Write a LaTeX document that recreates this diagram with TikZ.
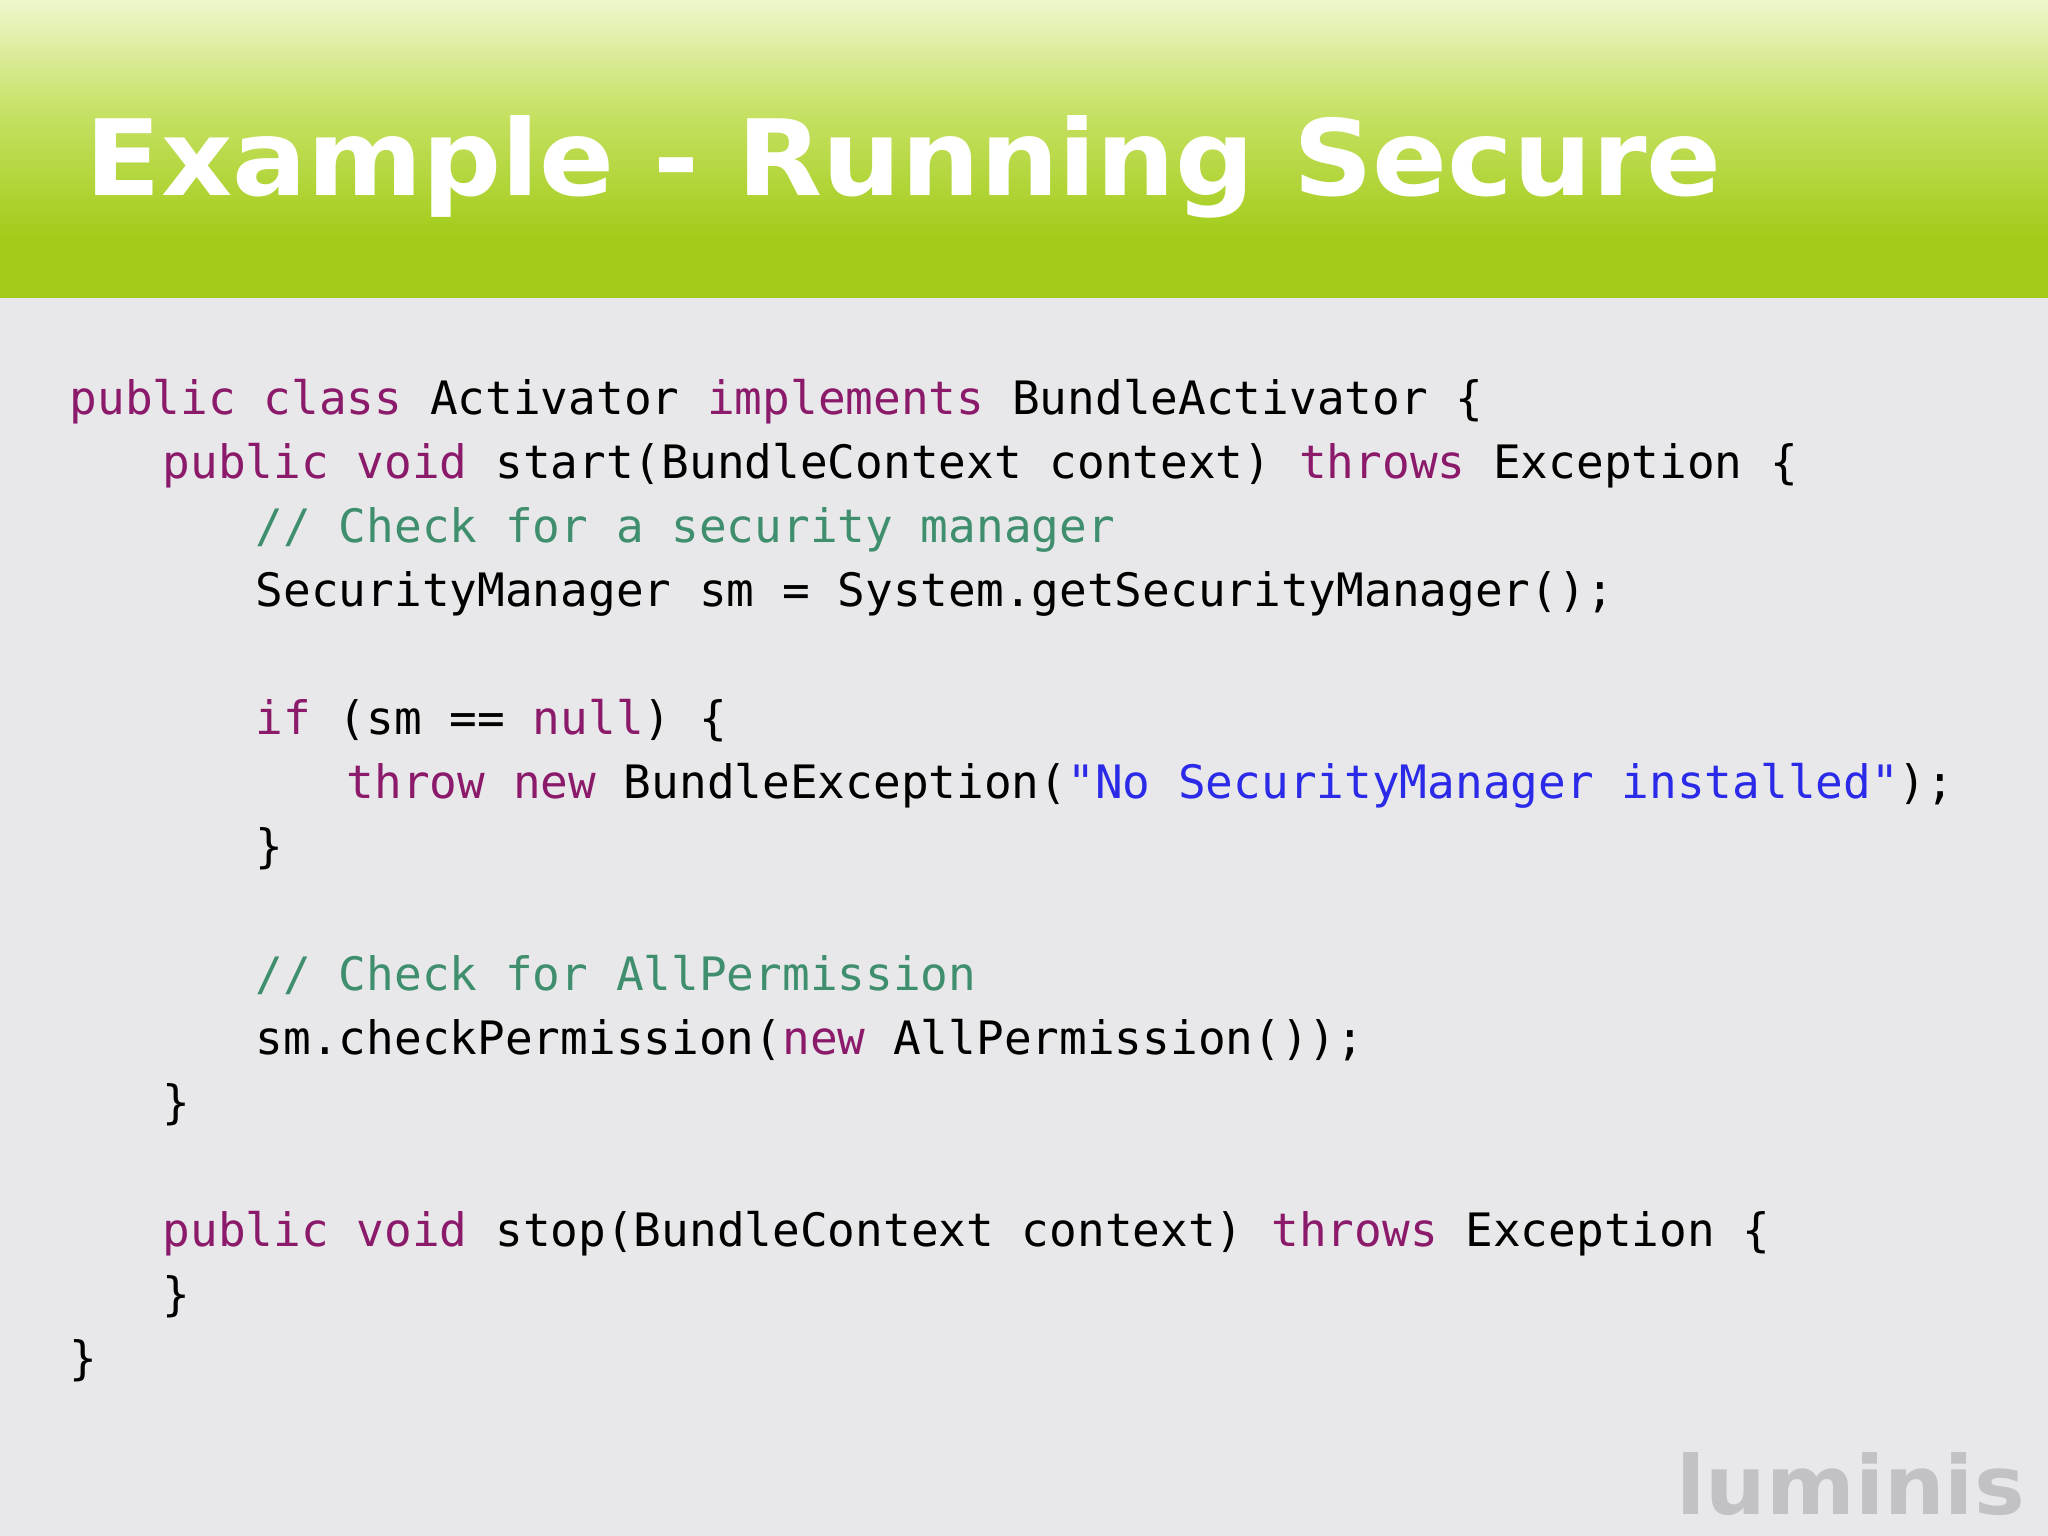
\documentclass[tikz,border=0pt]{standalone}
\usepackage{fontspec}
\usepackage{graphicx}
\setmonofont{DejaVu Sans Mono}
\newfontfamily\titlefont{DejaVu Sans}
\definecolor{bg}{HTML}{E8E8EA}
\definecolor{kw}{HTML}{8B1A6B}
\definecolor{cm}{HTML}{3F8F6F}
\definecolor{st}{HTML}{2A2AE8}
\definecolor{gtop}{HTML}{EEF6CC}
\definecolor{gmid}{HTML}{C4E060}
\definecolor{gbot}{HTML}{A3CC1A}
\definecolor{logo}{HTML}{C2C2C4}
\newcommand{\K}[1]{\textcolor{kw}{#1}}
\newcommand{\C}[1]{\textcolor{cm}{#1}}
\newcommand{\Sg}[1]{\textcolor{st}{#1}}
\begin{document}
\begin{tikzpicture}[x=1cm,y=1cm,
  code/.style={anchor=base west,inner sep=0pt,font=\ttfamily\fontsize{13.1}{15}\selectfont,text=black}]
\useasboundingbox (0,0) rectangle (20.48,15.36);
\fill[bg] (0,0) rectangle (20.48,15.36);
\fill[gbot] (0,12.38) rectangle (20.48,13.05);
\shade[top color=gtop,bottom color=gbot,middle color=gmid] (0,13.0) rectangle (20.48,15.36);
\node[anchor=base west,inner sep=0pt,text=white] (title) at (0.85,13.40)
  {\resizebox{16.36cm}{0.80cm}{\titlefont\bfseries Example - Running Secure}};
\node[code] (l1) at (0.69,11.21) {\K{public class} Activator \K{implements} BundleActivator \{};
\node[code] (l2) at (1.62,10.57) {\K{public void} start(BundleContext context) \K{throws} Exception \{};
\node[code] (l3) at (2.55,9.93) {\C{// Check for a security manager}};
\node[code] (l4) at (2.55,9.29) {SecurityManager sm = System.getSecurityManager();};
\node[code] (l6) at (2.55,8.01) {\K{if} (sm == \K{null}) \{};
\node[code] (l7) at (3.46,7.37) {\K{throw new} BundleException(\Sg{"No SecurityManager installed"});};
\node[code] (l8) at (2.55,6.73) {\}};
\node[code] (l10) at (2.55,5.45) {\C{// Check for AllPermission}};
\node[code] (l11) at (2.55,4.81) {sm.checkPermission(\K{new} AllPermission());};
\node[code] (l12) at (1.62,4.17) {\}};
\node[code] (l14) at (1.62,2.89) {\K{public void} stop(BundleContext context) \K{throws} Exception \{};
\node[code] (l15) at (1.62,2.25) {\}};
\node[code] (l16) at (0.69,1.61) {\}};
\node[anchor=base west,inner sep=0pt,text=logo] (logo) at (16.76,0.21)
  {\resizebox{3.48cm}{0.62cm}{\titlefont\bfseries luminis}};
\end{tikzpicture}
\end{document}
